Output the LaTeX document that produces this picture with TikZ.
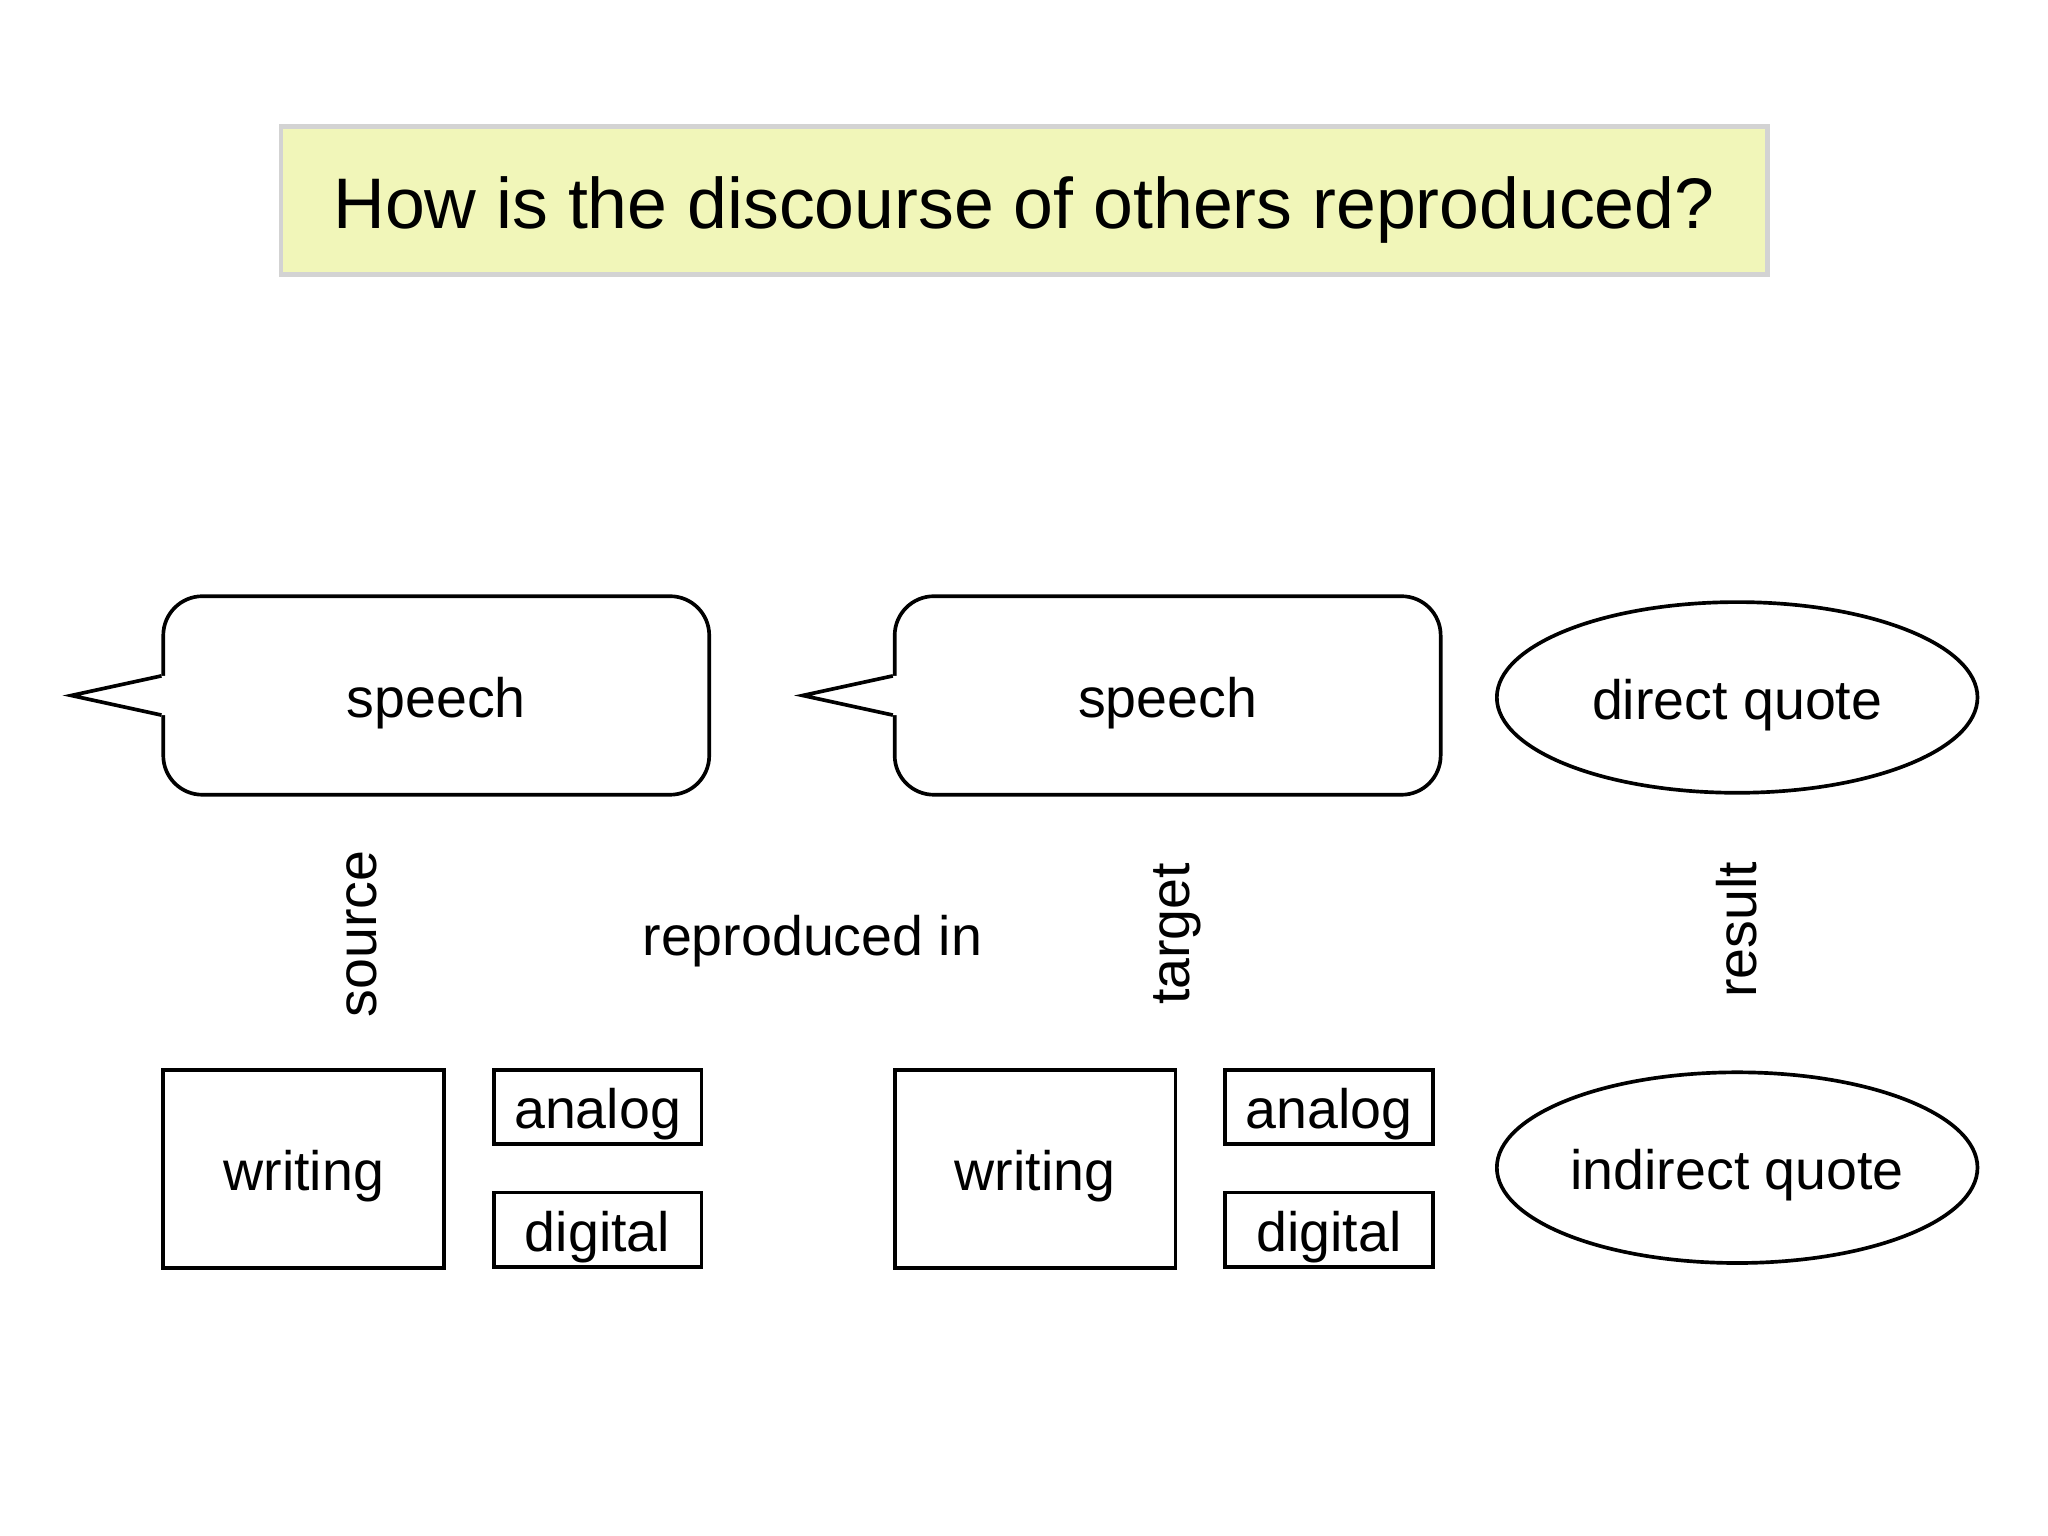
\documentclass[tikz,border=0pt]{standalone}
\usepackage{fontspec}
\setmainfont{Liberation Sans}
\usetikzlibrary{shapes.geometric, positioning, calc}
\definecolor{titlefill}{HTML}{F1F6B9}
\definecolor{titleline}{HTML}{D3D3D3}
\tikzset{
  words/.style={font=\fontsize{12.1pt}{14pt}\selectfont, text height=0.417cm, text depth=0.085cm},
  bubblebox/.style={draw, line width=0.8pt, rounded corners=0.3cm, minimum width=4.18cm, minimum height=1.52cm, words},
  mediumbox/.style={draw, line width=0.8pt, minimum width=2.15cm, minimum height=1.52cm, words},
  kindbox/.style={draw, line width=0.8pt, minimum width=1.59cm, minimum height=0.57cm, inner sep=0pt, words},
  quotebox/.style={draw, ellipse, line width=0.8pt, minimum width=3.68cm, minimum height=1.46cm, inner sep=0pt, words},
  rolelabel/.style={rotate=90, words},
}
\begin{document}
\begin{tikzpicture}
\useasboundingbox (0,-0.12) rectangle (15.68,11.64);

% Question
\node[draw=titleline, fill=titlefill, line width=1pt, minimum width=11.38cm, minimum height=1.13cm, text height=0.54cm, text depth=0.11cm, font=\fontsize{15.6pt}{18pt}\selectfont] (question) at (7.84,10.105) {How is the discourse of others reproduced?};

% Source and target columns
\foreach \dx/\side in {0/src, 5.6/tgt} {
  \node[bubblebox] (speech-\side) at (3.34+\dx,6.315) {speech};
  \coordinate (tip-\side) at ($(speech-\side.west)+(-0.69,0)$);
  \fill[white] ($(speech-\side.west)+(0.05,0.15)$) -- ($(speech-\side.west)+(0,0.15)$) -- (tip-\side) -- ($(speech-\side.west)+(0,-0.15)$) -- ($(speech-\side.west)+(0.05,-0.15)$) -- cycle;
  \draw[line width=0.8pt] ($(speech-\side.west)+(0,0.15)$) -- (tip-\side) -- ($(speech-\side.west)+(0,-0.15)$);
  \node[mediumbox] (writing-\side) at (2.325+\dx,2.69) {writing};
  \node[kindbox] (analog-\side) at (4.575+\dx,3.165) {analog};
  \node[kindbox] (digital-\side) at (4.575+\dx,2.225) {digital};
}

% Labels
\node[rolelabel] (source) at (2.715,4.49) {source};
\node[words] (reproduced) at (6.22,4.49) {reproduced in};
\node[rolelabel] (target) at (8.94,4.49) {target};
\node[rolelabel] (result) at (13.28,4.52) {result};

% Results
\node[quotebox] (direct) at (13.30,6.30) {direct quote};
\node[quotebox] (indirect) at (13.30,2.70) {indirect quote};
\end{tikzpicture}
\end{document}
